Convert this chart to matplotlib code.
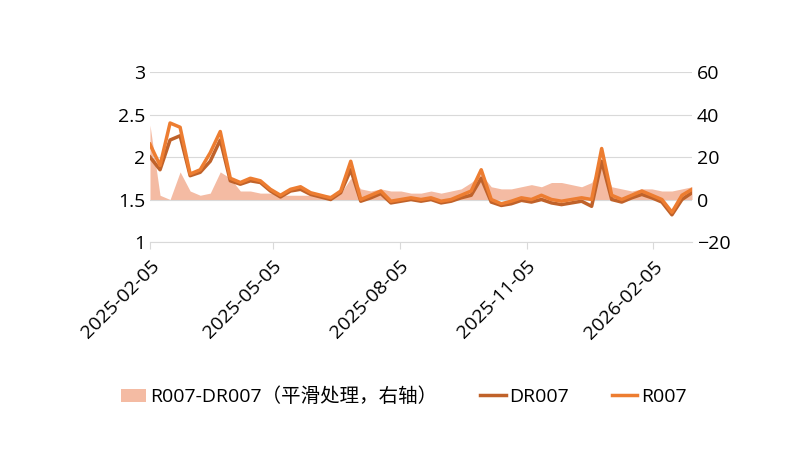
import matplotlib
matplotlib.use("Agg")
import matplotlib.pyplot as plt
import pandas as pd

plt.rcParams['font.family'] = ['Open Sans', 'Noto Sans CJK SC', 'DejaVu Sans']

r007 = [2.15,1.9,2.4,2.35,1.8,1.85,2.05,2.3,1.75,1.7,1.75,1.72,1.62,1.55,1.62,1.65,1.58,1.55,1.52,1.6,
        1.95,1.5,1.55,1.6,1.48,1.5,1.52,1.5,1.52,1.48,1.5,1.55,1.6,1.85,1.5,1.45,1.48,1.52,1.5,1.55,
        1.5,1.48,1.5,1.52,1.5,2.1,1.55,1.5,1.55,1.6,1.55,1.5,1.35,1.55,1.62]
dr007 = [2.0,1.85,2.2,2.25,1.78,1.82,1.95,2.2,1.72,1.68,1.72,1.7,1.6,1.53,1.6,1.62,1.56,1.53,1.5,1.58,
         1.85,1.48,1.52,1.57,1.46,1.48,1.5,1.48,1.5,1.46,1.48,1.52,1.55,1.75,1.47,1.43,1.45,1.49,1.47,1.5,
         1.46,1.44,1.46,1.48,1.42,1.95,1.5,1.47,1.52,1.56,1.52,1.47,1.32,1.5,1.58]
spread = [35,2,0,13,4,2,3,13,10,4,4,3,3,2,2,2,2,2,2,3,10,5,4,5,4,4,3,3,4,3,4,5,8,12,6,5,5,6,7,6,
          8,8,7,6,8,18,6,5,4,5,5,4,4,5,6]
dates = pd.date_range("2025-02-05", "2026-03-05", periods=len(r007))
ticks = pd.to_datetime(["2025-02-05", "2025-05-05", "2025-08-05", "2025-11-05", "2026-02-05"])

fig = plt.figure(figsize=(8, 4.5), dpi=100)
ax = fig.add_axes([0.1875, 0.4622, 0.6775, 0.3778])
ax2 = ax.twinx()
ax.set_zorder(2); ax.patch.set_visible(False)

f = ax2.fill_between(dates, 0, spread, color='#F4BBA3', lw=0)
l1, = ax.plot(dates, dr007, color='#C0622A', lw=2.5)
l2, = ax.plot(dates, r007, color='#ED7D31', lw=2.5)

ax.set_ylim(1, 3); ax.set_yticks([1, 1.5, 2, 2.5, 3])
ax.set_yticklabels(['1', '1.5', '2', '2.5', '3'])
ax2.set_ylim(-20, 60); ax2.set_yticks([-20, 0, 20, 40, 60])
ax.set_xlim(dates[0], dates[-1])
ax.set_xticks(ticks)
ax.set_xticklabels([t.strftime("%Y-%m-%d") for t in ticks], rotation=45, ha='right', rotation_mode='anchor')
ax.grid(axis='y', color='#d9d9d9', lw=0.8)
for a in (ax, ax2):
    for s in a.spines.values():
        s.set_visible(False)
    a.tick_params(length=0, labelsize=14)
ax.spines['bottom'].set_visible(True); ax.spines['bottom'].set_color('#d9d9d9')
ax.tick_params(axis='x', length=5, color='#d9d9d9', pad=6)
fig.legend([f, l1, l2], ['R007-DR007（平滑处理，右轴）', 'DR007', 'R007'], loc='center', bbox_to_anchor=(0.505, 0.118),
           ncol=3, frameon=False, fontsize=14, handlelength=1.3, columnspacing=2.2, handletextpad=0.2)
fig.savefig("out.png")
